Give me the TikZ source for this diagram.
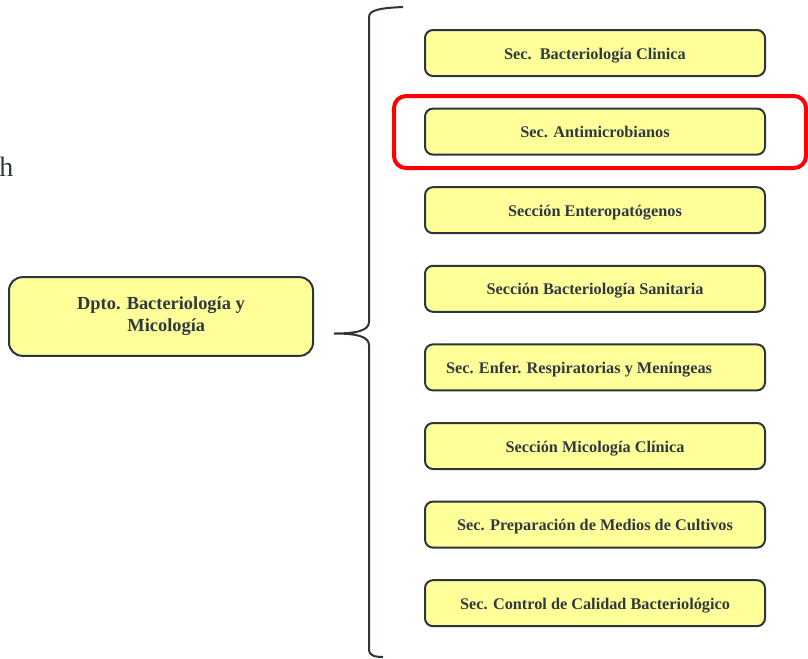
\documentclass[tikz,border=0pt]{standalone}
\usepackage{fontspec}
\setmainfont{Liberation Serif}
\usetikzlibrary{positioning}

\definecolor{cajafondo}{HTML}{FFFF99}
\definecolor{cajaborde}{HTML}{2B353B}
\definecolor{textoosc}{HTML}{2F3A40}

\tikzset{%
  every sec/.style={
    rectangle,
    rounded corners=6pt,
    draw=cajaborde,
    line width=1.5pt,
    fill=cajafondo,
    text=textoosc,
    font=\bfseries\fontsize{12.2}{14}\selectfont,
    text height=11.5pt,
    text depth=2.5pt,
    minimum width=255pt,
    minimum height=34.5pt,
    inner sep=0pt
  },
  sec 5/.style={
    execute at end node=\hspace{24pt}
  },
  dpto/.style={
    every sec,
    text height=,
    text depth=,
    rounded corners=10pt,
    minimum width=228pt,
    minimum height=59pt,
    align=center,
    font=\bfseries\fontsize{13.8}{16.5}\selectfont
  },
  marca/.style={
    rectangle,
    rounded corners=9pt,
    draw=red,
    line width=3pt,
    minimum width=309pt,
    minimum height=54pt
  },
}

\begin{document}
\begin{tikzpicture}[x=0.75pt, y=-0.75pt]
\useasboundingbox (0,0) rectangle (808,658);

\node [anchor=base west, text=textoosc, font=\fontsize{21}{24}\selectfont, inner sep=0pt] (corte) at (-1,176) {h};

\node [dpto] (dpto) at (161,316.5) {Dpto. Bacteriología y\\ \hspace*{8pt}Micología};

\foreach \l [count=\y] in {Sec.\ \ Bacteriología Clinica, Sec. Antimicrobianos,
    Sección Enteropatógenos, Sección Bacteriología Sanitaria,
    Sec. Enfer. Respiratorias y Meníngeas, Sección Micología Clínica,
    Sec. Preparación de Medios de Cultivos, Sec. Control de Calidad Bacteriológico}
  \node [every sec/.try, sec \y/.try] (sec-\y) at (595,53+\y*78.6-78.6) {\l};

\node [marca] (marca) at (600,132) {};

% llave
\coordinate (llave-top) at (403,7);
\coordinate (llave-tip) at (334,333.5);
\coordinate (llave-bot) at (383,657);
\draw [cajaborde, line width=1.5pt]
  (llave-top) .. controls (380,8) and (369,10) .. (369,17)
  -- (369,322) .. controls (369,331) and (355,333.5) .. (llave-tip)
  .. controls (355,333.5) and (369,336) .. (369,345)
  -- (369,650) .. controls (369,655) and (374,657) .. (llave-bot);

\end{tikzpicture}
\end{document}
